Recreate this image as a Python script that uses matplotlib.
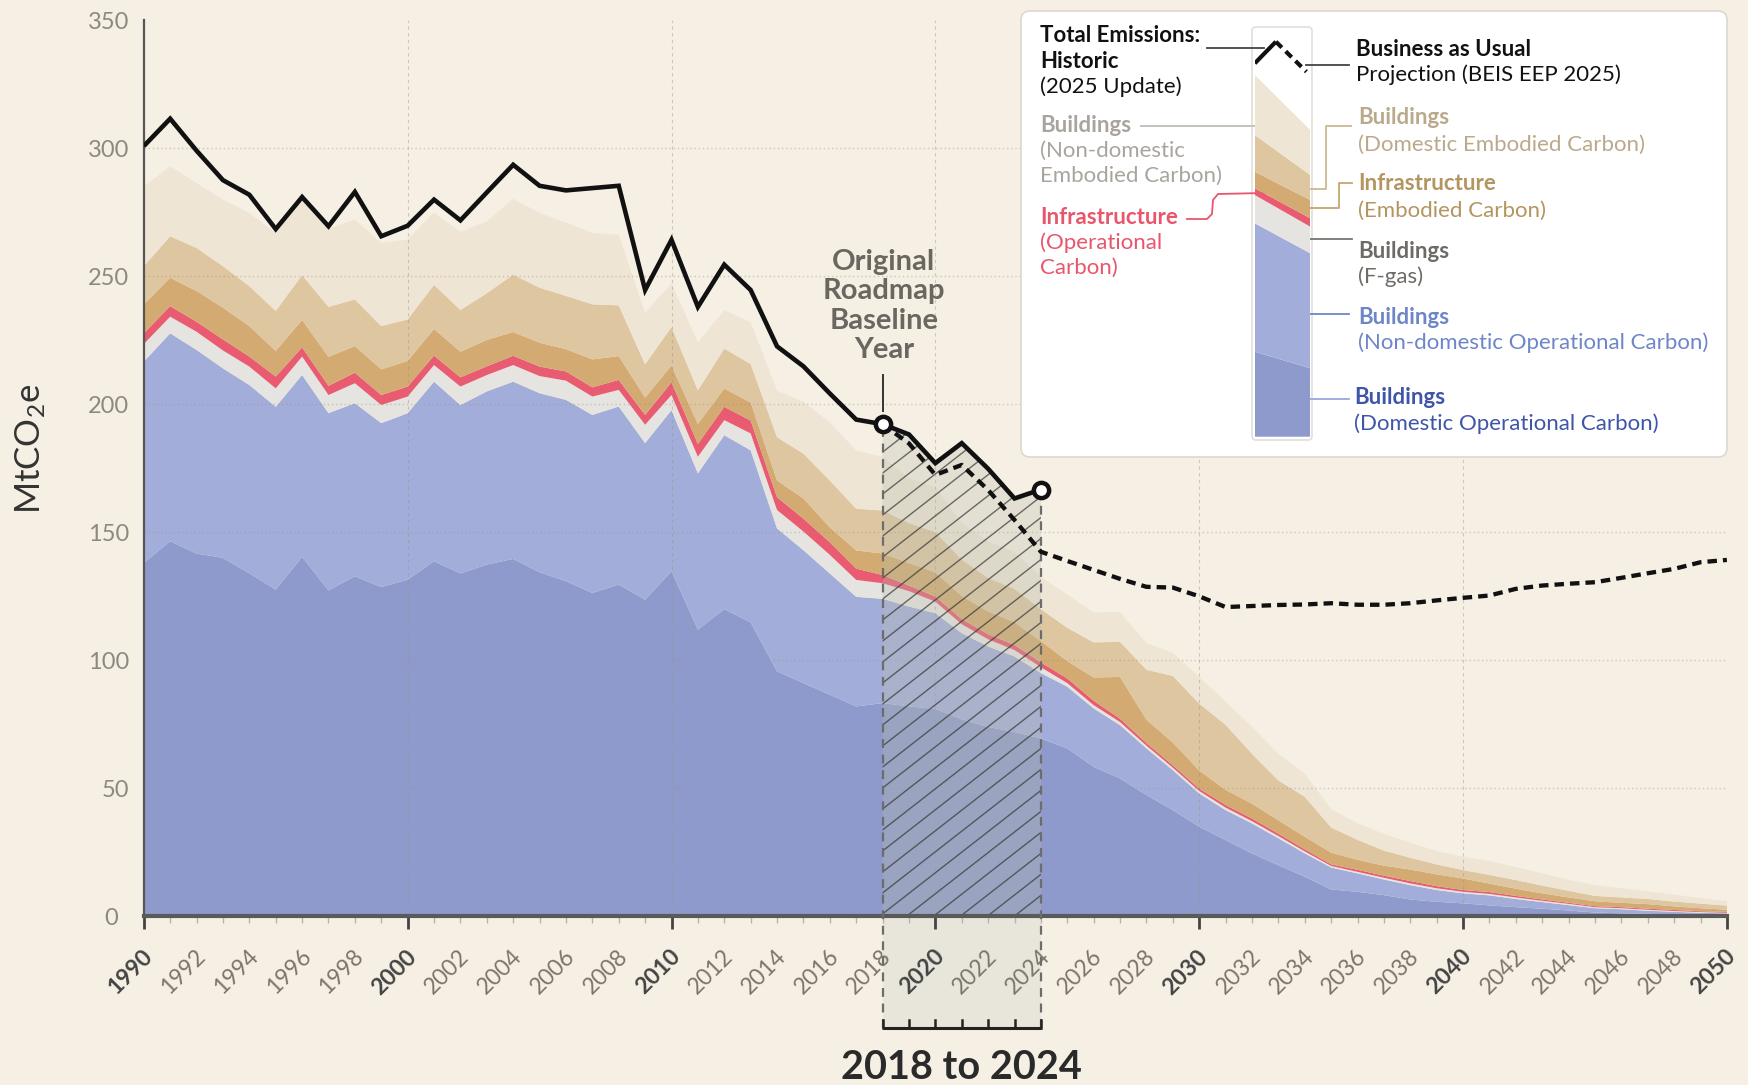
import numpy as np
import matplotlib
matplotlib.use("Agg")
import matplotlib.pyplot as plt
from matplotlib.patches import FancyBboxPatch, Rectangle
from matplotlib.collections import LineCollection

plt.rcParams['font.family'] = ['Lato', 'DejaVu Sans']
plt.rcParams['mathtext.fontset'] = 'custom'
plt.rcParams['mathtext.rm'] = 'Lato'
plt.rcParams['mathtext.default'] = 'regular'

# ---------------- data ----------------
years = np.arange(1990, 2051)
hist_years = np.arange(1990, 2025)
bau_years = np.arange(2018, 2051)

dom_op = [138, 146.5, 141.7, 140, 134, 127.6, 140.4, 127.3, 132.8, 128.6,
          131.5, 138.7, 133.9, 137.4, 139.6, 134.4, 130.9, 126.3, 129.6, 123.7,
          134.8, 112, 120, 114.8, 95.7, 91.1, 86.6, 82, 83.3, 82,
          81, 77, 74, 72, 69.5, 65.6, 58.4, 53.9, 47.4, 41.5,
          35, 29.8, 24.6, 20, 15.5, 10.5, 9.6, 8.3, 6.6, 5.7,
          5.1, 4.3, 3.6, 3.0, 2.3, 1.5, 1.2, 1.0, 0.8, 0.6, 0.5]
nondom_op = [78.6, 81.2, 79.5, 74.0, 73.5, 71.4, 71.0, 69.2, 67.6, 64.0,
             65.0, 70.1, 65.8, 67.6, 69.2, 69.9, 70.8, 69.5, 69.5, 61.1,
             62.9, 61.0, 67.9, 67.2, 55.8, 51.9, 47.3, 42.8, 40.7, 39.0,
             37.4, 33.6, 31.4, 29.5, 25.5, 24.1, 22.8, 20.8, 18.2, 15.6,
             13.0, 11.7, 11.7, 10.5, 9.1, 8.6, 7.2, 6.1, 5.6, 4.6,
             3.9, 3.9, 3.2, 2.6, 2.1, 1.7, 1.6, 1.2, 1.0, 0.8, 0.7]
fgas = [6.9, 6.5, 7.1, 7.0, 7.2, 7.2, 7.2, 7.1, 7.8, 7.1,
        6.5, 6.5, 7.2, 6.4, 6.5, 6.7, 7.5, 7.2, 6.5, 7.2,
        5.9, 6.5, 5.9, 6.6, 7.2, 7.3, 7.3, 6.6, 6.1, 6.0,
        4.5, 3.5, 2.8, 2.5, 2.3, 1.4, 1.3, 1.2, 1.1, 1.0,
        1.0, 1.0, 0.9, 0.9, 0.8, 0.6, 0.6, 0.7, 0.7, 0.7,
        0.6, 0.6, 0.6, 0.5, 0.5, 0.4, 0.4, 0.4, 0.3, 0.3, 0.2]
infra_op = [4.2, 4.1, 3.9, 4.3, 3.9, 4.6, 3.6, 3.6, 4.1, 3.9,
            3.9, 3.7, 3.6, 3.4, 3.6, 3.7, 3.6, 3.6, 3.9, 3.8,
            5.0, 5.0, 5.2, 5.0, 5.0, 5.0, 4.9, 4.4, 3.2, 2.2,
            2.0, 2.0, 2.0, 2.0, 1.9, 1.8, 1.7, 1.3, 1.0, 0.9,
            0.9, 1.0, 1.0, 0.9, 0.8, 0.6, 0.8, 0.8, 0.9, 0.8,
            0.7, 0.7, 0.6, 0.5, 0.4, 0.4, 0.4, 0.4, 0.4, 0.3, 0.4]
infra_emb = [11.3, 11.1, 12.0, 12.4, 11.9, 10.0, 10.7, 11.3, 10.4, 10.0,
             10.0, 10.4, 10.0, 10.3, 9.3, 9.3, 8.7, 10.9, 9.3, 6.8,
             6.5, 7.8, 7.1, 7.1, 6.5, 7.9, 5.8, 7.1, 8.4, 8.8,
             9.5, 9.0, 8.9, 8.9, 8.3, 6.8, 9.1, 16.3, 9.1, 8.9,
             7.1, 5.9, 5.8, 5.2, 4.9, 4.6, 3.9, 3.9, 4.5, 4.6,
             4.5, 3.3, 2.8, 2.4, 2.1, 1.9, 1.7, 1.8, 1.4, 1.2, 0.8]
dom_emb = [14.9, 16.2, 16.8, 16.2, 15.6, 15.6, 17.5, 19.5, 18.2, 16.9,
           16.2, 17.2, 16.3, 18.2, 22.4, 21.5, 20.8, 21.5, 19.8, 13.0,
           15.0, 13.1, 15.6, 15.0, 16.9, 17.5, 18.3, 16.3, 16.8, 15.6,
           15.7, 14.2, 13.1, 13.0, 12.5, 13.0, 13.7, 13.7, 19.5, 26.0,
           26.1, 25.4, 19.5, 15.6, 15.6, 9.8, 7.8, 5.9, 4.6, 3.9,
           3.3, 3.4, 3.4, 3.0, 2.6, 2.1, 2.1, 2.0, 1.9, 1.8, 1.6]
nondom_emb = [31.1, 27.3, 25.4, 26.0, 28.6, 30.5, 29.9, 30.5, 31.2, 32.5,
              31.2, 28.3, 30.5, 28.1, 29.6, 29.2, 28.6, 27.9, 27.6, 20.1,
              17.1, 18.8, 15.0, 16.3, 18.2, 20.2, 22.7, 22.7, 21.0, 17.6,
              17.5, 14.3, 14.3, 14.4, 12.5, 13.0, 11.7, 11.7, 10.4, 9.1,
              10.4, 9.1, 10.5, 10.4, 9.1, 7.1, 6.5, 6.5, 5.9, 5.2,
              5.2, 5.4, 5.1, 4.8, 4.3, 4.2, 3.6, 3.0, 2.7, 2.2, 1.8]

total_hist = [300.8, 311.5, 299.0, 287.5, 281.8, 268.4, 280.9, 269.5, 282.9, 265.6,
              269.7, 279.9, 271.8, 282.7, 293.5, 285.3, 283.5, 284.4, 285.3, 244.6,
              264.2, 238.0, 254.5, 244.6, 222.6, 214.8, 204.2, 194.0, 192.2, 188.2,
              177.0, 184.8, 174.8, 163.2, 166.7]
bau = [192.2, 184.7, 172.4, 176.3, 166.5, 154.8, 142.4, 138.8, 135.3, 131.8,
       128.7, 128.4, 125.0, 120.8, 121.2, 121.6, 121.8, 122.3, 121.7, 121.7,
       122.3, 123.4, 124.4, 125.3, 127.9, 129.2, 129.9, 130.5, 132.2, 134.0,
       135.7, 138.3, 139.2]

layer_names = ["Buildings (Domestic Operational Carbon)",
               "Buildings (Non-domestic Operational Carbon)",
               "Buildings (F-gas)",
               "Infrastructure (Operational Carbon)",
               "Infrastructure (Embodied Carbon)",
               "Buildings (Domestic Embodied Carbon)",
               "Buildings (Non-domestic Embodied Carbon)"]
layer_colors = ["#8E9ACB", "#A3ADD9", "#E6E4E1", "#E85B70",
                "#D2AA72", "#DEC6A1", "#EFE5D5"]

xtick_years = list(range(1990, 2051, 2))
xtick_labels = [str(y) for y in xtick_years]
ytick_values = list(range(0, 351, 50))
ytick_labels = [str(v) for v in ytick_values]

# legend glyph (mini stack, left/right edge values)
glyph_x = [0, 1]
glyph_layers = [[85, 68.4], [128.4, 115.0], [28.3, 26.6], [6.7, 8.4],
                [16.6, 18.3], [36.7, 25.0], [60.0, 45.0]]
glyph_hist_x = [0, 0.38]
glyph_hist_y = [373.4, 395.0]
glyph_bau_x = [0.38, 0.93]
glyph_bau_y = [395.0, 365.0]

BG = "#F6F0E4"
W, H = 1748, 1085
fig = plt.figure(figsize=(W / 100, H / 100), dpi=100, facecolor=BG)

ax = fig.add_axes([143.8 / W, 1 - 916.4 / H, (1726.9 - 143.8) / W, (916.4 - 20.1) / H])
ax.set_facecolor("none")
ax.set_xlim(1990, 2050)
ax.set_ylim(0, 350)

ax.stackplot(years, dom_op, nondom_op, fgas, infra_op, infra_emb, dom_emb, nondom_emb,
             colors=layer_colors, linewidth=0, zorder=1, labels=layer_names)

# grid
for yv in range(50, 350, 50):
    ax.axhline(yv, color="#9c9486", lw=1.0, ls=(0, (1, 2)), alpha=0.45, zorder=1.5)
for xv in range(2000, 2050, 10):
    ax.axvline(xv, color="#9c9486", lw=0.8, ls=(0, (3, 3)), alpha=0.45, zorder=1.5)

# highlighted 2018-2024 period
hi = slice(28, 35)
poly = ax.fill_between(hist_years[hi], 0, np.array(total_hist)[hi],
                       facecolor=(0.72, 0.74, 0.68, 0.30), linewidth=0, zorder=2)
px_per_year = ax.get_position().width * W / 60
px_per_unit = ax.get_position().height * H / 350
slope = 0.78 * px_per_year / px_per_unit
segs = [[(x0, 0), (x0 + 350 / slope, 350)] for x0 in np.arange(2018 - 45, 2025, 1.02)]
hatch = LineCollection(segs, colors=[(0.22, 0.22, 0.22, 0.72)], linewidths=1.0, zorder=2.1)
ax.add_collection(hatch)
hatch.set_clip_path(poly.get_paths()[0], ax.transData)

ybr = -43.5
ax.add_patch(Rectangle((2018, ybr), 6, -ybr, facecolor="#E8E5DA", edgecolor="none",
                       clip_on=False, zorder=0.5))
for yr, tv in ((2018, total_hist[28]), (2024, total_hist[34])):
    ax.plot([yr, yr], [ybr, tv], color="#6c6c6c", lw=1.6, ls=(0, (4, 3)),
            clip_on=False, zorder=4)
ax.plot([2018, 2024], [ybr, ybr], color="#222222", lw=2.2, clip_on=False,
        solid_capstyle="butt", zorder=4)
for yr in range(2018, 2025):
    ax.plot([yr, yr], [ybr, ybr + 3.2], color="#222222", lw=1.8, clip_on=False, zorder=4)
ax.text(2021, -59, "2018 to 2024", ha="center", va="center", fontsize=28.5,
        fontweight="bold", color="#2a2a2a", clip_on=False)

# lines
ax.plot(hist_years, total_hist, color="#111111", lw=3.3, zorder=5,
        solid_joinstyle="miter", solid_capstyle="butt")
ax.plot(bau_years, bau, color="#111111", lw=3.1, ls=(0, (2.2, 1.4)), zorder=5)
ax.plot([2018, 2024], [total_hist[28], total_hist[34]], "o", ms=11,
        mfc="white", mec="#111111", mew=3.2, zorder=6)

ax.text(2018.05, 238.3, "Original\nRoadmap\nBaseline\nYear", ha="center", va="center",
        fontsize=21, fontweight="bold", color="#6B6660", linespacing=1.16, zorder=6)
ax.plot([2018, 2018], [197.5, 211.5], color="#333333", lw=1.4, zorder=6)

# axes styling
for s in ("top", "right"):
    ax.spines[s].set_visible(False)
ax.spines["left"].set_color("#555555")
ax.spines["left"].set_linewidth(1.6)
ax.spines["bottom"].set_color("#5a5a5a")
ax.spines["bottom"].set_linewidth(3)
ax.spines["left"].set_zorder(3)
ax.spines["bottom"].set_zorder(3)

ax.set_yticks(ytick_values)
ax.set_yticklabels(ytick_labels)
ax.tick_params(axis="y", length=0, pad=10.5, labelsize=17, labelcolor="#8d8881")
ax.get_yticklabels()[0].set_x(-0.007)

major = list(range(1990, 2051, 10))
minor = [y for y in range(1990, 2051) if y % 10]
ax.set_xticks(major)
ax.set_xticks(minor, minor=True)
ax.tick_params(axis="x", which="major", length=9.5, width=2, color="#444444",
               labelbottom=False)
ax.tick_params(axis="x", which="minor", length=5, width=1, color="#b9b2a6",
               labelbottom=False)
for yr, lab in zip(xtick_years, xtick_labels):
    decade = yr % 10 == 0
    ax.annotate(lab, xy=(yr, 0), xycoords=("data", "axes fraction"),
                xytext=(4.0, -26.5), textcoords="offset points",
                rotation=45, rotation_mode="anchor", ha="right", va="center",
                fontsize=16.5, fontweight="bold" if decade else "normal",
                color="#444444" if decade else "#7b756e", annotation_clip=False)

fig.text(31 / W, 1 - 449 / H, "MtCO$_2$e", rotation=90, ha="center", va="center",
         fontsize=25, color="#333333")

# ---------------- legend panel ----------------
lax = fig.add_axes([0, 0, 1, 1])
lax.set_xlim(0, W)
lax.set_ylim(H, 0)
lax.axis("off")
lax.set_zorder(10)
lax.add_patch(FancyBboxPatch((1021, 11), 706, 446, boxstyle="round,pad=0,rounding_size=9",
                             facecolor="white", edgecolor="#dcd8d0", lw=1.2))
lax.add_patch(FancyBboxPatch((1252, 27), 60, 413, boxstyle="round,pad=0,rounding_size=4",
                             facecolor="white", edgecolor="#e2dfd9", lw=1.2))

gax = fig.add_axes([1254.8 / W, 1 - 436.7 / H, 55.5 / W, 408.7 / H])
gax.set_zorder(11)
gax.set_xlim(0, 1)
gax.set_ylim(0, 408.7)
gax.axis("off")
gax.stackplot(glyph_x, *glyph_layers, colors=layer_colors, linewidth=0)
gax.plot(glyph_hist_x, glyph_hist_y, color="#111111", lw=3, solid_capstyle="butt")
gax.plot(glyph_bau_x, glyph_bau_y, color="#111111", lw=3, ls=(0, (2.0, 1.3)))

FS = 16
def ltext(x, y, s, color, bold=False):
    lax.text(x, y, s, ha="left", va="center", fontsize=FS, color=color,
             fontweight="bold" if bold else "normal")

ltext(1040, 35, "Total Emissions:", "#111111", True)
ltext(1040, 61, "Historic", "#111111", True)
ltext(1040, 87, "(2025 Update)", "#111111")
c = "#A9A49D"
ltext(1040, 126, "Buildings", c, True)
ltext(1040, 151, "(Non-domestic", c)
ltext(1040, 176, "Embodied Carbon)", c)
c = "#E8566C"
ltext(1040, 218, "Infrastructure", c, True)
ltext(1040, 243, "(Operational", c)
ltext(1040, 268, "Carbon)", c)

ltext(1356, 50, "Business as Usual", "#111111", True)
ltext(1356, 75, "Projection (BEIS EEP 2025)", "#111111")
c = "#BBA98C"
ltext(1358, 118, "Buildings", c, True)
ltext(1358, 145, "(Domestic Embodied Carbon)", c)
c = "#B3955F"
ltext(1358, 184, "Infrastructure", c, True)
ltext(1358, 211, "(Embodied Carbon)", c)
c = "#6E6A66"
ltext(1358, 251, "Buildings", c, True)
ltext(1358, 277, "(F-gas)", c)
c = "#6D86C8"
ltext(1358, 317, "Buildings", c, True)
ltext(1358, 343, "(Non-domestic Operational Carbon)", c)
c = "#3E55A8"
ltext(1354, 398, "Buildings", c, True)
ltext(1354, 424, "(Domestic Operational Carbon)", c)

def conn(xs, ys, color):
    lax.plot(xs, ys, color=color, lw=1.3, solid_joinstyle="round", zorder=12)

conn([1207, 1264], [47.7, 47.7], "#444444")
conn([1306, 1349], [65, 65], "#444444")
conn([1141, 1264], [126, 126], "#c2bdb5")
conn([1187, 1207, 1212, 1213, 1218, 1264], [219, 219, 214, 200, 194, 193], "#E8566C")
conn([1351, 1326, 1326, 1299], [126, 126, 189, 189], "#CDB893")
conn([1352, 1339, 1339, 1304], [183, 183, 208, 208], "#C4A673")
conn([1352, 1302], [239, 239], "#7a7672")
conn([1349, 1310], [314, 314], "#6F87C7")
conn([1349, 1310], [399, 399], "#9AA8DA")

fig.savefig("out.png", dpi=100, facecolor=BG)
